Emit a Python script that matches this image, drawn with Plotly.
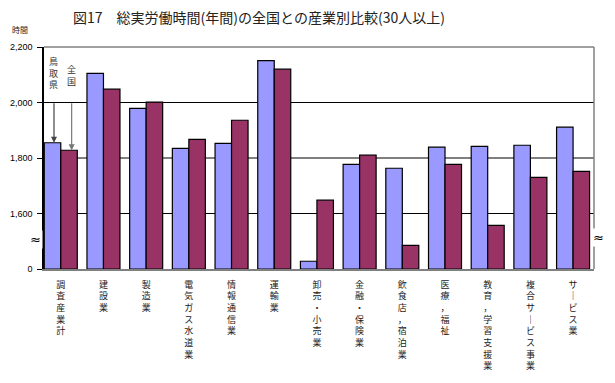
import plotly.graph_objects as go

categories = ["調査産業計", "建設業", "製造業", "電気ガス水道業", "情報通信業", "運輸業",
              "卸売・小売業", "金融・保険業", "飲食店，宿泊業", "医療，福祉",
              "教育，学習支援業", "複合サービス事業", "サービス業"]
tottori = [1855, 2105, 1979, 1835, 1853, 2151, 1428, 1777, 1763, 1839, 1842, 1846, 1911]
zenkoku = [1828, 2048, 2001, 1867, 1936, 2120, 1648, 1810, 1485, 1777, 1557, 1730, 1752]
y_tickvals = [1400, 1600, 1800, 2000, 2200]
y_ticktext = ["0", "1,600", "1,800", "2,000", "2,200"]

CJK = "Noto Sans CJK JP"

def vert(s):
    return "<br>".join(ch if ch != "ー" else "｜" for ch in s)

xs = list(range(len(categories)))

fig = go.Figure()
fig.add_trace(go.Bar(x=xs, y=[v - 1400 for v in tottori], base=1400, name="鳥取県",
                     marker=dict(color="#9999FF", line=dict(color="black", width=1.2))))
fig.add_trace(go.Bar(x=xs, y=[v - 1400 for v in zenkoku], base=1400, name="全国",
                     marker=dict(color="#993366", line=dict(color="black", width=1.2))))

shapes = []
for g in [1600, 1800, 2000]:
    shapes.append(dict(type="line", xref="paper", yref="y", x0=0, x1=1, y0=g, y1=g,
                       line=dict(color="black", width=1), layer="below"))
# top and right border
shapes.append(dict(type="line", xref="paper", yref="paper", x0=0, x1=1, y0=1, y1=1,
                   line=dict(color="#808080", width=1.5)))
shapes.append(dict(type="line", xref="paper", yref="paper", x0=1, x1=1, y0=0, y1=1,
                   line=dict(color="#808080", width=1.5)))

annotations = [
    dict(text="時間", xref="paper", yref="paper", x=-0.0445, y=1.081, xanchor="center",
         yanchor="middle", showarrow=False, font=dict(family=CJK, size=8, color="#222")),
    dict(text="≈", xref="paper", yref="paper", x=-0.016, y=0.135, xanchor="center",
         yanchor="middle", showarrow=False, bgcolor="white", borderpad=1,
         font=dict(family="DejaVu Sans", size=13, color="black")),
    dict(text="≈", xref="paper", yref="paper", x=1.009, y=0.144, xanchor="center",
         yanchor="middle", showarrow=False, bgcolor="white", borderpad=1,
         font=dict(family="DejaVu Sans", size=13, color="black")),
    # arrows
    dict(x=-0.159, y=tottori[0], ax=-0.159, ay=2003, axref="x", ayref="y", xref="x", yref="y",
         text="", showarrow=True, arrowhead=2, arrowsize=1, arrowwidth=1.2, arrowcolor="#444"),
    dict(x=0.255, y=zenkoku[0], ax=0.255, ay=2003, axref="x", ayref="y", xref="x", yref="y",
         text="", showarrow=True, arrowhead=2, arrowsize=1, arrowwidth=1.2, arrowcolor="#777"),
    dict(x=-0.159, y=2106, xref="x", yref="y", text=vert("鳥取県"), showarrow=False,
         font=dict(family=CJK, size=9, color="#333"), xanchor="center", yanchor="middle"),
    dict(x=0.255, y=2099, xref="x", yref="y", text=vert("全国"), showarrow=False,
         font=dict(family=CJK, size=9, color="#333"), xanchor="center", yanchor="middle"),
]

fig.update_layout(
    width=615, height=383,
    margin=dict(l=36, r=29, t=39, b=122),
    paper_bgcolor="white", plot_bgcolor="white",
    barmode="group", bargap=0.227, bargroupgap=0,
    showlegend=False,
    title=dict(text="図17　総実労働時間(年間)の全国との産業別比較(30人以上)",
               x=251 / 615, xanchor="center", y=1 - 10 / 383, yanchor="middle",
               font=dict(family=CJK, size=14, color="#222")),
    shapes=shapes, annotations=annotations,
    xaxis=dict(range=[-0.393, 12.49], tickvals=xs, ticktext=[vert(c) for c in categories],
               showline=True, linecolor="#808080", linewidth=1.5, showgrid=False,
               ticks="", ticklabelstandoff=6, zeroline=False, automargin=False,
               tickfont=dict(family=CJK, size=9, color="#222")),
    yaxis=dict(range=[1400, 2200], tickvals=y_tickvals, ticktext=y_ticktext,
               showline=True, linecolor="black", linewidth=1.5, showgrid=False,
               ticks="outside", ticklen=5, tickcolor="black", zeroline=False,
               ticklabelstandoff=3, automargin=False,
               tickfont=dict(family="Liberation Sans", size=9, color="black")),
)

fig.write_html("out.html")
